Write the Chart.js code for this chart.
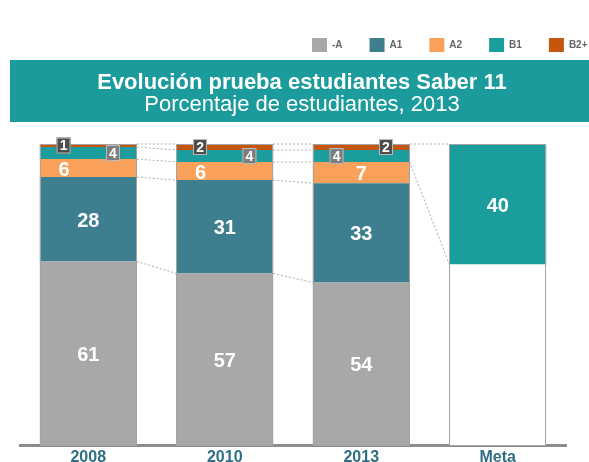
<!DOCTYPE html>
<html><head><meta charset="utf-8">
<script src="https://cdn.jsdelivr.net/npm/chart.js@4/dist/chart.umd.min.js"></script>
<style>html,body{margin:0;padding:0;background:#fff;overflow:hidden}#wrap{width:589px;height:462px;position:relative}</style>
</head><body><div id="wrap"><canvas id="c" width="589" height="462"></canvas></div>
<script>
// ---- data ----
const categories = ['2008', '2010', '2013', 'Meta'];
const seriesNames = ['-A', 'A1', 'A2', 'B1', 'B2+'];
const valMinusA = [61, 57, 54, null];
const valA1 = [28, 31, 33, null];
const valA2 = [6, 6, 7, null];
const valB1 = [4, 4, 4, 40];
const valB2 = [1, 2, 2, null];
const valMetaRest = [null, null, null, 60];
const titleText = 'Evolución prueba estudiantes Saber 11';
const subtitleText = 'Porcentaje de estudiantes, 2013';

// ---- styles ----
const colors = { minusA: '#a8a8a8', A1: '#3e7f8f', A2: '#f9a15b', B1: '#1b9d9d', B2: '#c4560f', band: '#1b9b9b' };
Chart.defaults.font.family = "'Liberation Sans', Arial, sans-serif";

const overlay = {
  id: 'overlay',
  beforeDraw(chart) {
    const ctx = chart.ctx;
    ctx.save();
    ctx.fillStyle = '#fff';
    ctx.fillRect(0, 0, chart.width, chart.height);
    const t = chart.titleBlock;
    ctx.fillStyle = colors.band;
    ctx.fillRect(10, t.top - 2, chart.width - 10, 62);
    ctx.restore();
  },
  afterLayout(chart) {
    const lg = chart.legend;
    if (lg) { lg.left = 285; lg.right = 3000; }
  },
  beforeDatasetsDraw(chart) {
    const ctx = chart.ctx;
    const order = [0, 2, 3, 4, 5];
    const el = (d, j) => chart.getDatasetMeta(d).data[j];
    ctx.save();
    ctx.strokeStyle = '#adadad';
    ctx.lineWidth = 1;
    ctx.setLineDash([2, 2]);
    const line = (x1, y1, x2, y2) => { ctx.beginPath(); ctx.moveTo(x1, y1); ctx.lineTo(x2, y2); ctx.stroke(); };
    for (let j = 0; j < 2; j++) {
      for (const d of order) {
        const a = el(d, j), b = el(d, j + 1);
        line(a.x + a.width / 2, a.y, b.x - b.width / 2, b.y);
      }
    }
    const a2 = el(5, 2), m = el(4, 3), a1 = el(4, 2);
    line(a2.x + a2.width / 2, a2.y, m.x - m.width / 2, m.y);
    line(a1.x + a1.width / 2, a1.base, m.x - m.width / 2, m.base);
    ctx.restore();
  },
  afterDatasetsDraw(chart) {
    const ctx = chart.ctx;
    const el = (d, j) => chart.getDatasetMeta(d).data[j];
    const val = (d, j) => chart.data.datasets[d].data[j];
    ctx.save();
    // outlines
    ctx.strokeStyle = '#a3a3a3';
    ctx.lineWidth = 1;
    for (let j = 0; j < categories.length; j++) {
      let top = Infinity, base = -Infinity, x = 0, w = 0;
      chart.data.datasets.forEach((ds, d) => {
        if (ds.data[j] == null) return;
        const e = el(d, j);
        top = Math.min(top, e.y); base = Math.max(base, e.base); x = e.x; w = e.width;
      });
      ctx.strokeRect(Math.round(x - w / 2) + 0.5, Math.round(top) + 0.5, Math.round(w) - 1, Math.round(base - top));
    }
    // big labels
    const opt = chart.options.plugins.overlay;
    ctx.fillStyle = '#fff';
    ctx.textAlign = 'center';
    ctx.textBaseline = 'middle';
    ctx.font = "bold 20px 'Liberation Sans', Arial, sans-serif";
    [0, 2, 3, 4].forEach(d => {
      chart.data.datasets[d].data.forEach((v, j) => {
        if (v == null) return;
        if (d === 4 && j < 3) return;
        const e = el(d, j);
        let x = e.x;
        if (d === 3) x += opt.a2Shift[j] * e.width;
        ctx.fillText(String(v), x, (e.y + e.base) / 2 + 2);
      });
    });
    // small boxed labels
    ctx.font = "bold 14px 'Liberation Sans', Arial, sans-serif";
    const small = [[5, opt.b2Side, '#4d4d4d'], [4, opt.b1Side, '#7d7d7d']];
    small.forEach(([d, sides, fill]) => {
      for (let j = 0; j < 3; j++) {
        const v = val(d, j);
        if (v == null) continue;
        const e = el(d, j);
        const cx = e.x + sides[j] * e.width * 0.255;
        const cy = (e.y + e.base) / 2;
        ctx.fillStyle = fill;
        ctx.fillRect(cx - 7, cy - 8, 14, 16);
        ctx.strokeStyle = '#bdbdbd';
        ctx.strokeRect(cx - 7 + 0.5, cy - 8 + 0.5, 13, 15);
        ctx.fillStyle = '#fff';
        ctx.fillText(String(v), cx, cy + 1);
      }
    });
    ctx.restore();
  }
};

const mk = (label, data, color) => ({ label, data, backgroundColor: color, borderWidth: 0, barPercentage: 0.71, categoryPercentage: 1 });

new Chart(document.getElementById('c'), {
  type: 'bar',
  data: {
    labels: categories,
    datasets: [
      mk(seriesNames[0], valMinusA, colors.minusA),
      mk('Meta', valMetaRest, '#ffffff'),
      mk(seriesNames[1], valA1, colors.A1),
      mk(seriesNames[2], valA2, colors.A2),
      mk(seriesNames[3], valB1, colors.B1),
      mk(seriesNames[4], valB2, colors.B2)
    ]
  },
  options: {
    responsive: false,
    animation: false,
    devicePixelRatio: 1,
    layout: { padding: { top: 11, left: 15, right: 0, bottom: 0 } },
    plugins: {
      overlay: { a2Shift: [-0.25, -0.25, 0, 0], b2Side: [-1, -1, 1], b1Side: [1, 1, -1] },
      legend: {
        display: true, position: 'top', align: 'start', weight: 3000,
        labels: {
          boxWidth: 15, boxHeight: 14, padding: 27, color: '#666',
          font: { size: 10, weight: 'bold' },
          filter: (item) => item.datasetIndex !== 1
        }
      },
      title: {
        display: true, text: titleText, color: '#fff',
        font: { size: 22, weight: 'bold', lineHeight: 1 },
        padding: { top: 9.5, bottom: 0 }
      },
      subtitle: {
        display: true, text: subtitleText, color: '#fff',
        font: { size: 22, weight: 'normal', lineHeight: 1 },
        padding: { top: 0.5, bottom: 28 }
      },
      tooltip: { enabled: false }
    },
    scales: {
      x: {
        stacked: true,
        grid: { display: false, drawTicks: false },
        border: { display: true, color: '#8c8c8c', width: 3 },
        ticks: { color: '#2f6f83', font: { size: 16, weight: 'bold', lineHeight: 1 }, padding: 5 },
        afterFit(s) { s.height = 17; }
      },
      y: {
        stacked: true, min: 0, max: 100, display: true,
        grid: { display: false }, border: { display: false }, ticks: { display: false },
        afterFit(s) { s.width = 5; }
      },
      y2: {
        type: 'linear', position: 'right', display: true,
        grid: { display: false }, border: { display: false }, ticks: { display: false },
        afterFit(s) { s.width = 23; }
      }
    }
  },
  plugins: [overlay]
});
</script>
</body></html>
